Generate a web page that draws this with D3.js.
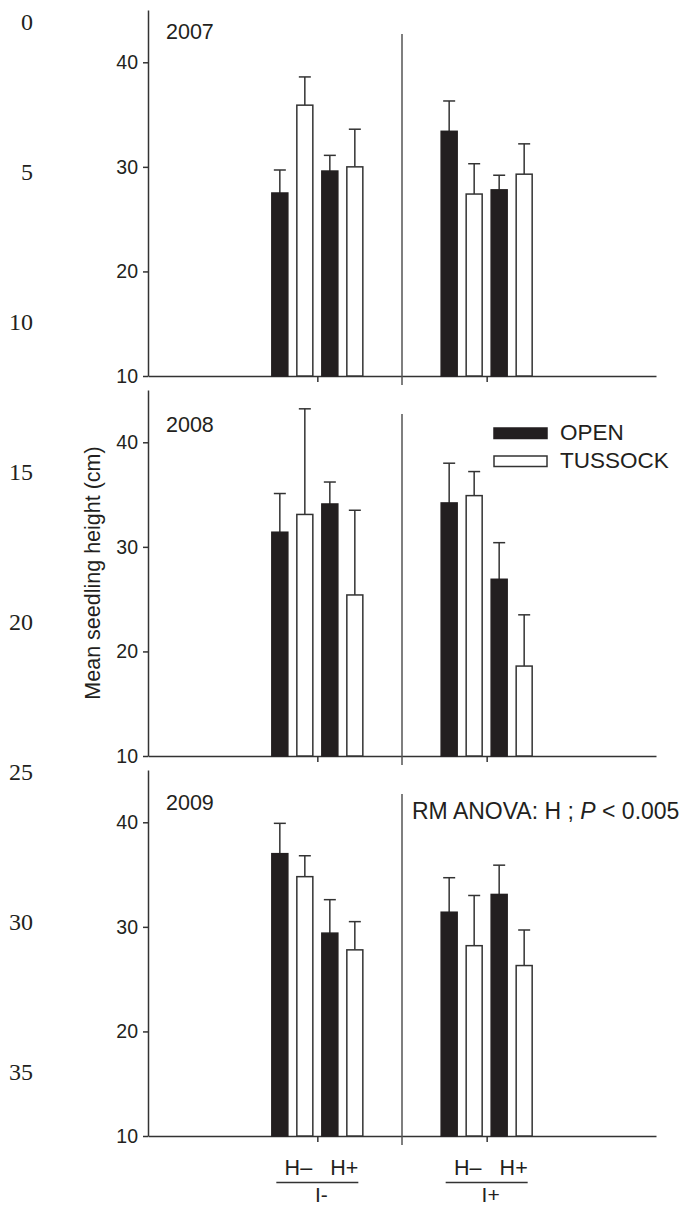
<!DOCTYPE html>
<html>
<head>
<meta charset="utf-8">
<script src="https://cdn.jsdelivr.net/npm/d3@7"></script>
<style>
  body { margin: 0; background: #fff; }
  svg { display: block; font-family: 'Liberation Sans', Arial, sans-serif; }
  .axis path, .axis line { stroke: #333; stroke-width: 1.5px; }
  .axis text { font-size: 19.5px; fill: #231f20; font-family: 'Liberation Sans', Arial, sans-serif; }
</style>
</head>
<body>
<svg class="chart"></svg>
<script>
const years = ['2007', '2008', '2009']
const groups = ['I-', 'I+']
const herbivory = ['H–', 'H+']
const habitats = ['OPEN', 'TUSSOCK']
const yTicks = [10, 20, 30, 40]
const lineNumbers = [0, 5, 10, 15, 20, 25, 30, 35]

// bar order in each group: H– OPEN, H– TUSSOCK, H+ OPEN, H+ TUSSOCK (I- first, then I+)
const means2007 = [27.5, 35.9, 29.6, 30.0, 33.4, 27.4, 27.8, 29.3]
const errors2007 = [2.2, 2.7, 1.5, 3.6, 2.9, 2.9, 1.4, 2.9]
const means2008 = [31.4, 33.1, 34.1, 25.4, 34.2, 34.9, 26.9, 18.6]
const errors2008 = [3.7, 10.1, 2.1, 8.1, 3.8, 2.3, 3.5, 4.9]
const means2009 = [37.0, 34.8, 29.4, 27.8, 31.4, 28.2, 33.1, 26.3]
const errors2009 = [2.9, 2.0, 3.2, 2.7, 3.3, 4.8, 2.8, 3.4]

const means = [means2007, means2008, means2009]
const errors = [errors2007, errors2008, errors2009]

const ink = '#231f20'
const left = 148
const right = 656
const firstBottom = 376
const panelStep = 380
const panelHeight = 366
const yearLabelAt = [42.2, 41.0, 41.2]

const chart = d3.select('.chart')
  .attr('width', 683)
  .attr('height', 1207)

const x = d3.scalePoint().domain(groups).range([left, right]).padding(1)
const barKeys = d3.cross(herbivory, habitats).map(([h, s]) => `${h} ${s}`)
const xBar = d3.scaleBand()
  .domain(barKeys)
  .range([-50, 50])
  .paddingInner(0.36)
  .paddingOuter(0.18)
const herbLabel = d3.scalePoint().domain(herbivory).range([-19, 27])
const dividerX = (x(groups[0]) + x(groups[1])) / 2

// manuscript line numbers down the left edge
const lineY = d3.scaleLinear().domain([0, 35]).range([30, 1080])
chart.append('g').attr('class', 'lineNumbers')
  .selectAll('text')
  .data(lineNumbers)
  .enter()
  .append('text')
  .attr('x', 33)
  .attr('y', d => lineY(d))
  .attr('text-anchor', 'end')
  .attr('font-family', "'Liberation Serif', 'Times New Roman', serif")
  .attr('font-size', 24)
  .attr('fill', ink)
  .text(d => d)

years.forEach((year, i) => {
  const bottom = firstBottom + i * panelStep
  const y = d3.scaleLinear().domain([10, 45]).range([bottom, bottom - panelHeight])
  const panel = chart.append('g').attr('class', `panel panel${year}`)

  panel.append('g').attr('class', 'axis')
    .attr('transform', `translate(${left},0)`)
    .call(d3.axisLeft(y).tickValues(yTicks).tickSize(5).tickPadding(5).tickSizeOuter(0))

  panel.append('g').attr('class', 'axis')
    .attr('transform', `translate(0,${bottom})`)
    .call(d3.axisBottom(x).tickSize(6).tickSizeOuter(0).tickFormat(''))

  panel.append('line')
    .attr('x1', dividerX)
    .attr('x2', dividerX)
    .attr('y1', y(42.7))
    .attr('y2', bottom + 9)
    .attr('stroke', '#555')
    .attr('stroke-width', 1.5)

  const rows = groups.flatMap((group, g) => barKeys.map((key, b) => ({
    group,
    key,
    habitat: habitats[b % 2],
    mean: means[i][g * 4 + b],
    err: errors[i][g * 4 + b],
  })))
  const cx = d => x(d.group) + xBar(d.key) + xBar.bandwidth() / 2

  const errorBars = panel.append('g').attr('class', 'errors')
    .selectAll('g')
    .data(rows)
    .enter()
    .append('g')
    .attr('stroke', '#333')
    .attr('stroke-width', 1.5)
  errorBars.append('line')
    .attr('x1', cx)
    .attr('x2', cx)
    .attr('y1', d => y(d.mean))
    .attr('y2', d => y(d.mean + d.err))
  errorBars.append('line')
    .attr('x1', d => cx(d) - 6)
    .attr('x2', d => cx(d) + 6)
    .attr('y1', d => y(d.mean + d.err))
    .attr('y2', d => y(d.mean + d.err))

  panel.append('g').attr('class', 'bars')
    .selectAll('rect')
    .data(rows)
    .enter()
    .append('rect')
    .attr('x', d => x(d.group) + xBar(d.key))
    .attr('y', d => y(d.mean))
    .attr('width', xBar.bandwidth())
    .attr('height', d => bottom - y(d.mean))
    .attr('fill', d => (d.habitat === 'OPEN' ? ink : '#fff'))
    .attr('stroke', d => (d.habitat === 'OPEN' ? ink : '#333'))
    .attr('stroke-width', 1.5)

  panel.append('text')
    .attr('x', 166)
    .attr('y', y(yearLabelAt[i]))
    .attr('font-size', 21.5)
    .attr('fill', ink)
    .text(year)

  if (i === 1) {
    const legend = panel.append('g').attr('class', 'legend')
      .selectAll('g')
      .data(habitats)
      .enter()
      .append('g')
      .attr('transform', (d, k) => `translate(494,${428 + k * 28})`)
    legend.append('rect')
      .attr('width', 53)
      .attr('height', 10.5)
      .attr('fill', d => (d === 'OPEN' ? ink : '#fff'))
      .attr('stroke', d => (d === 'OPEN' ? ink : '#333'))
      .attr('stroke-width', 1.5)
    legend.append('text')
      .attr('x', 66)
      .attr('y', 12)
      .attr('font-size', 22.5)
      .attr('fill', ink)
      .text(d => d)

    panel.append('text')
      .attr('transform', `translate(100,${(bottom + bottom - panelHeight) / 2}) rotate(-90)`)
      .attr('text-anchor', 'middle')
      .attr('font-size', 21.5)
      .attr('fill', ink)
      .text('Mean seedling height (cm)')
  }

  if (i === 2) {
    const note = panel.append('text')
      .attr('x', 412)
      .attr('y', 819)
      .attr('font-size', 23)
      .attr('fill', ink)
    note.append('tspan').text('RM ANOVA: H ; ')
    note.append('tspan').attr('font-style', 'italic').text('P')
    note.append('tspan').text(' < 0.005')

    const labels = panel.append('g').attr('class', 'xLabels')
      .selectAll('g')
      .data(groups)
      .enter()
      .append('g')
      .attr('transform', d => `translate(${x(d)},0)`)
    labels.selectAll('text.herb')
      .data(herbivory)
      .enter()
      .append('text')
      .attr('class', 'herb')
      .attr('x', d => herbLabel(d))
      .attr('y', 1175)
      .attr('text-anchor', 'middle')
      .attr('font-size', 21.5)
      .attr('fill', ink)
      .text(d => d)
    labels.append('line')
      .attr('x1', -41)
      .attr('x2', 41)
      .attr('y1', 1182.5)
      .attr('y2', 1182.5)
      .attr('stroke', '#333')
      .attr('stroke-width', 1.5)
    labels.append('text')
      .attr('x', 4)
      .attr('y', 1202)
      .attr('text-anchor', 'middle')
      .attr('font-size', 21)
      .attr('fill', ink)
      .text(d => d)
  }
})
</script>
</body>
</html>
